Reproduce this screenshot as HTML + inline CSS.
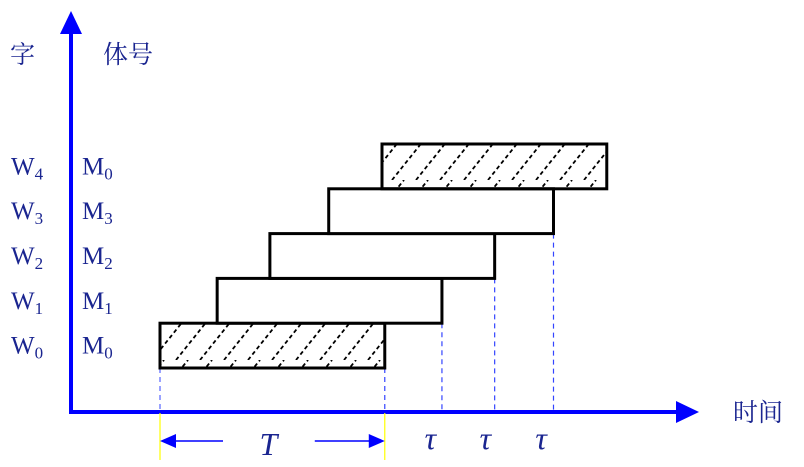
<!DOCTYPE html>
<html><head><meta charset="utf-8"><style>
body{margin:0;background:#fff;}
svg{display:block;}
text{font-family:"Liberation Serif","Noto Serif CJK SC",serif;fill:#1a2590;}
</style></head><body>
<svg id="c" width="804" height="467" viewBox="0 0 804 467">
<defs>
<pattern id="hatch" patternUnits="userSpaceOnUse" width="24" height="45" x="2" y="0">
<path d="M-18,45 L18,0" stroke="#000" stroke-width="1.8" stroke-dasharray="4,3"/>
<path d="M6,45 L42,0" stroke="#000" stroke-width="1.8" stroke-dasharray="4,3"/>
</pattern>
</defs>
<g id="axes">
<line x1="71" y1="413" x2="71" y2="30" stroke="#0000ff" stroke-width="4"/>
<polygon points="71,11 60,34 82,34" fill="#0000ff"/>
<line x1="69" y1="412" x2="678" y2="412" stroke="#0000ff" stroke-width="4"/>
<polygon points="699,412 676,401 676,423" fill="#0000ff"/>
<text x="10" y="63" font-size="25">字</text>
<text x="103" y="63" font-size="25">体号</text>
<text x="733" y="421" font-size="25">时间</text>
</g>
<g id="annot"></g>
<g id="bars"></g>
<g id="labels"></g>
</svg>
<script>
const words = ["W0","W1","W2","W3","W4"];
const modules = ["M0","M1","M2","M3","M0"];
const starts = [0, 1.03, 1.98, 3.04, 4.0];
const durations = [4.05, 4.05, 4.05, 4.05, 4.05];
const hatched = [true, false, false, false, true];
const tauLabels = ["τ","τ","τ"];

const X0 = 160, XS = 55.5;
const xPos = t => X0 + t * XS;
const BASE = 368, H = 44.8;
const yTop = i => BASE - (i + 1) * H;
const NS = "http://www.w3.org/2000/svg";
function mk(tag, attrs, parent){const e=document.createElementNS(NS,tag);for(const k in attrs)e.setAttribute(k,attrs[k]);parent.appendChild(e);return e;}
const bars=document.getElementById('bars'), labels=document.getElementById('labels'), annot=document.getElementById('annot');

const d0=mk('line',{x1:xPos(starts[0]),y1:BASE,x2:xPos(starts[0]),y2:412,stroke:'#3344ff','stroke-width':1,'stroke-dasharray':'5,4'},annot);


const ends=[];
words.forEach((w,i)=>{
  if(i<4){
    const xe=xPos(starts[i]+durations[i]);
    ends.push(xe);
    const d=mk('line',{x1:xe,y1:yTop(i)+H,x2:xe,y2:412,stroke:'#3344ff','stroke-width':1.2,'stroke-dasharray':'5,4'},annot);
    
    
  }
});

words.forEach((w,i)=>{
  const x=xPos(starts[i]), wd=durations[i]*XS, y=yTop(i);
  const r=mk('rect',{x:x,y:y,width:wd,height:H,fill:hatched[i]?'url(#hatch)':'#fff',stroke:'#000','stroke-width':3},bars);
  
  
  const cy=y+H/2+8;
  const t1=mk('text',{x:11,y:cy,'font-size':25},labels);
  t1.innerHTML=w[0]+'<tspan font-size="17" dy="5">'+w.slice(1)+'</tspan>';
  
  
  const t2=mk('text',{x:82,y:cy,'font-size':25},labels);
  t2.innerHTML=modules[i][0]+'<tspan font-size="17" dy="5">'+modules[i].slice(1)+'</tspan>';
  
  
});

const xa=xPos(starts[0]), xb=xPos(starts[0]+durations[0]);
[xa,xb].forEach((x,k)=>{
  const l=mk('line',{x1:x,y1:413,x2:x,y2:460,stroke:'#ffff00','stroke-width':1.2},annot);
  
  
});
const al=mk('line',{x1:xa+14,y1:441,x2:xa+63,y2:441,stroke:'#0000ff','stroke-width':1.5},annot);


const ah=mk('polygon',{points:`${xa},441 ${xa+16},434 ${xa+16},448`,fill:'#0000ff'},annot);


const ar=mk('line',{x1:xb-70,y1:441,x2:xb-14,y2:441,stroke:'#0000ff','stroke-width':1.5},annot);


const ah2=mk('polygon',{points:`${xb},441 ${xb-16},434 ${xb-16},448`,fill:'#0000ff'},annot);


const tl=mk('text',{x:(xa+xb)/2-4,y:455,'font-size':32,'font-style':'italic','text-anchor':'middle'},annot);
tl.textContent='T';



tauLabels.forEach((s,k)=>{
  const xm=(ends[k]+ends[k+1])/2;
  const t=mk('text',{x:xm+17,y:449,'font-size':32,'font-style':'italic','text-anchor':'middle'},annot);
  t.textContent=s;
  
  
});
</script>
</body></html>
